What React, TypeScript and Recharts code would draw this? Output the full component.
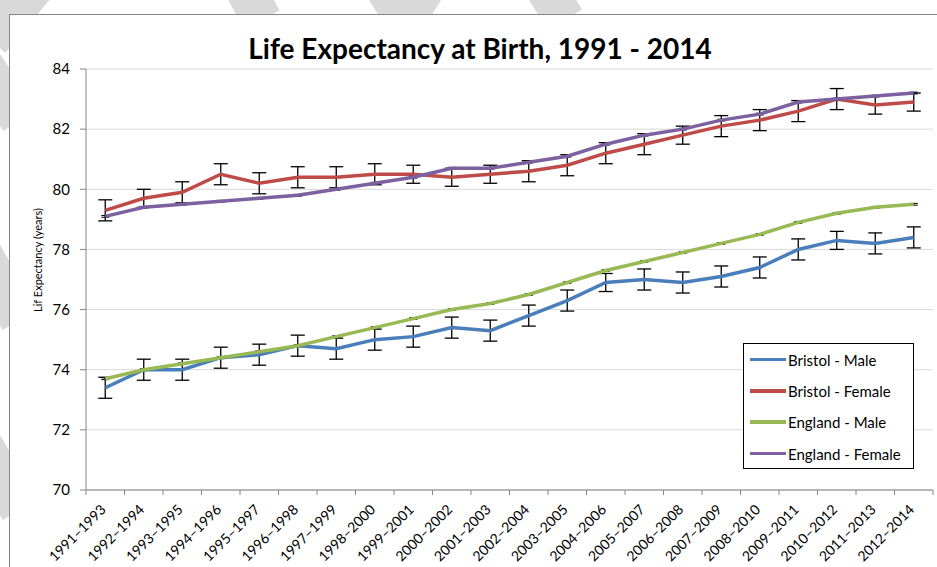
import { CartesianGrid, ErrorBar, Line, LineChart, Text, XAxis, YAxis } from "recharts";

const PERIODS = [
  "1991–1993", "1992–1994", "1993–1995", "1994–1996", "1995–1997", "1996–1998",
  "1997–1999", "1998–2000", "1999–2001", "2000–2002", "2001–2003", "2002–2004",
  "2003–2005", "2004–2006", "2005–2007", "2006–2008", "2007–2009", "2008–2010",
  "2009–2011", "2010–2012", "2011–2013", "2012–2014",
];

const BRISTOL_MALE = [
  73.4, 74.0, 74.0, 74.4, 74.5, 74.8, 74.7, 75.0, 75.1, 75.4, 75.3,
  75.8, 76.3, 76.9, 77.0, 76.9, 77.1, 77.4, 78.0, 78.3, 78.2, 78.4,
];
const BRISTOL_MALE_CI = [
  0.35, 0.35, 0.35, 0.35, 0.35, 0.35, 0.35, 0.35, 0.35, 0.35, 0.35,
  0.35, 0.35, 0.3, 0.35, 0.35, 0.35, 0.35, 0.35, 0.3, 0.35, 0.35,
];
const BRISTOL_FEMALE = [
  79.3, 79.7, 79.9, 80.5, 80.2, 80.4, 80.4, 80.5, 80.5, 80.4, 80.5,
  80.6, 80.8, 81.2, 81.5, 81.8, 82.1, 82.3, 82.6, 83.0, 82.8, 82.9,
];
const BRISTOL_FEMALE_CI = [
  0.35, 0.3, 0.35, 0.35, 0.35, 0.35, 0.35, 0.35, 0.3, 0.3, 0.3,
  0.35, 0.35, 0.35, 0.35, 0.3, 0.35, 0.35, 0.35, 0.35, 0.3, 0.3,
];
const ENGLAND_MALE = [
  73.7, 74.0, 74.2, 74.4, 74.6, 74.8, 75.1, 75.4, 75.7, 76.0, 76.2,
  76.5, 76.9, 77.3, 77.6, 77.9, 78.2, 78.5, 78.9, 79.2, 79.4, 79.5,
];
const ENGLAND_FEMALE = [
  79.1, 79.4, 79.5, 79.6, 79.7, 79.8, 80.0, 80.2, 80.4, 80.7, 80.7,
  80.9, 81.1, 81.5, 81.8, 82.0, 82.3, 82.5, 82.9, 83.0, 83.1, 83.2,
];
// England CIs are tiny, they only show as small black specks
const ENGLAND_CI = 0.03;

const Y_TICKS = [70, 72, 74, 76, 78, 80, 82, 84];

const SERIES = [
  { key: "bm", name: "Bristol - Male", color: "#4a7ebb" },
  { key: "bf", name: "Bristol - Female", color: "#be4b48" },
  { key: "em", name: "England - Male", color: "#98b954" },
  { key: "ef", name: "England - Female", color: "#7d60a0" },
];

const FONT = "Lato, 'Open Sans', sans-serif";
const W = 937;
const H = 567;
const PLOT_LEFT = 86;
const PLOT_RIGHT = 933;
const BAND = (PLOT_RIGHT - PLOT_LEFT) / PERIODS.length;
const AXIS = "#868686";

const data = PERIODS.map((period, i) => ({
  period,
  bm: BRISTOL_MALE[i],
  bmErr: BRISTOL_MALE_CI[i],
  bf: BRISTOL_FEMALE[i],
  bfErr: BRISTOL_FEMALE_CI[i],
  em: ENGLAND_MALE[i],
  ef: ENGLAND_FEMALE[i],
  engErr: ENGLAND_CI,
}));

// Excel-style category axis: tick marks sit between categories, labels at 45°
function PeriodTick(props: any) {
  const { x, y, payload, index } = props;
  const left = x - BAND / 2;
  const right = x + BAND / 2;
  return (
    <g>
      <line x1={left} x2={left} y1={y} y2={y + 5} stroke={AXIS} />
      {index === PERIODS.length - 1 && <line x1={right} x2={right} y1={y} y2={y + 5} stroke={AXIS} />}
      <Text
        x={x - 2}
        y={y + 17}
        angle={-45}
        textAnchor="end"
        verticalAnchor="middle"
        fontSize={14}
        fontFamily={FONT}
        fill="#000"
      >
        {payload.value}
      </Text>
    </g>
  );
}

function Stripes() {
  // grey watermark bands peeking out round the chart frame
  const bands: [number, number, number, number][] = [
    [40, -20, -10, 40],
    [240, -20, 262, 20],
    [380, -20, 405, 20],
    [430, -20, 405, 20],
    [540, -20, 565, 20],
    [-20, 60, 20, 120],
    [-20, 250, 20, 320],
    [-20, 440, 20, 510],
  ];
  return (
    <svg width={W} height={H} style={{ position: "absolute", left: 0, top: 0 }}>
      {bands.map(([x1, y1, x2, y2], i) => (
        <line key={i} x1={x1} y1={y1} x2={x2} y2={y2} stroke="#d9d9d9" strokeWidth={40} />
      ))}
    </svg>
  );
}

function LegendBox() {
  return (
    <div
      style={{
        position: "absolute",
        left: 743,
        top: 343,
        width: 171,
        height: 126,
        border: "1px solid #000",
        background: "#fff",
        boxSizing: "border-box",
        padding: "0 0 0 6px",
        fontFamily: FONT,
        fontSize: 15,
      }}
    >
      {SERIES.map((s) => (
        <div key={s.key} style={{ display: "flex", alignItems: "center", height: 31.3 }}>
          <span style={{ display: "inline-block", width: 36, height: 3.5, background: s.color, marginRight: 2 }} />
          <span>{s.name}</span>
        </div>
      ))}
    </div>
  );
}

export default function App() {
  return (
    <div
      style={{
        position: "fixed",
        left: 0,
        top: 0,
        width: W,
        height: H,
        background: "#fff",
        overflow: "hidden",
        fontFamily: FONT,
      }}
    >
      <Stripes />
      <div
        style={{
          position: "absolute",
          left: 9,
          top: 14,
          width: W + 20,
          height: H + 20,
          border: `1px solid ${AXIS}`,
          background: "#fff",
        }}
      />
      <div style={{ position: "absolute", left: 0, top: 0 }}>
        <LineChart width={W} height={H} data={data} margin={{ top: 69, right: W - PLOT_RIGHT, bottom: 0, left: 0 }}>
          <CartesianGrid vertical={false} stroke="#d9d9d9" />
          <XAxis
            dataKey="period"
            interval={0}
            height={77}
            padding={{ left: BAND / 2, right: BAND / 2 }}
            tickLine={false}
            tickSize={0}
            tickMargin={0}
            axisLine={{ stroke: AXIS }}
            tick={<PeriodTick />}
          />
          <YAxis
            domain={[70, 84]}
            ticks={Y_TICKS}
            width={PLOT_LEFT}
            tickSize={6}
            tickMargin={10}
            axisLine={{ stroke: AXIS }}
            tickLine={{ stroke: AXIS }}
            tick={{ fill: "#000", fontSize: 15, fontFamily: FONT }}
          />
          <Line type="linear" dataKey="bm" name="Bristol - Male" stroke={SERIES[0].color} strokeWidth={3.5} dot={false} isAnimationActive={false}>
            <ErrorBar dataKey="bmErr" direction="y" width={7} stroke="#000" strokeWidth={1.3} />
          </Line>
          <Line type="linear" dataKey="bf" name="Bristol - Female" stroke={SERIES[1].color} strokeWidth={3.5} dot={false} isAnimationActive={false}>
            <ErrorBar dataKey="bfErr" direction="y" width={7} stroke="#000" strokeWidth={1.3} />
          </Line>
          <Line type="linear" dataKey="em" name="England - Male" stroke={SERIES[2].color} strokeWidth={3.5} dot={false} isAnimationActive={false}>
            <ErrorBar dataKey="engErr" direction="y" width={4} stroke="#000" strokeWidth={1} />
          </Line>
          <Line type="linear" dataKey="ef" name="England - Female" stroke={SERIES[3].color} strokeWidth={3.5} dot={false} isAnimationActive={false}>
            <ErrorBar dataKey="engErr" direction="y" width={4} stroke="#000" strokeWidth={1} />
          </Line>
        </LineChart>
      </div>
      <div
        style={{
          position: "absolute",
          left: 480,
          top: 48,
          transform: "translate(-50%, -50%)",
          fontSize: 28,
          fontWeight: 700,
          whiteSpace: "nowrap",
        }}
      >
        Life Expectancy at Birth, 1991 - 2014
      </div>
      <div
        style={{
          position: "absolute",
          left: 37,
          top: 260,
          transform: "translate(-50%, -50%) rotate(-90deg)",
          fontSize: 11,
          whiteSpace: "nowrap",
        }}
      >
        Lif Expectancy (years)
      </div>
      <LegendBox />
    </div>
  );
}
